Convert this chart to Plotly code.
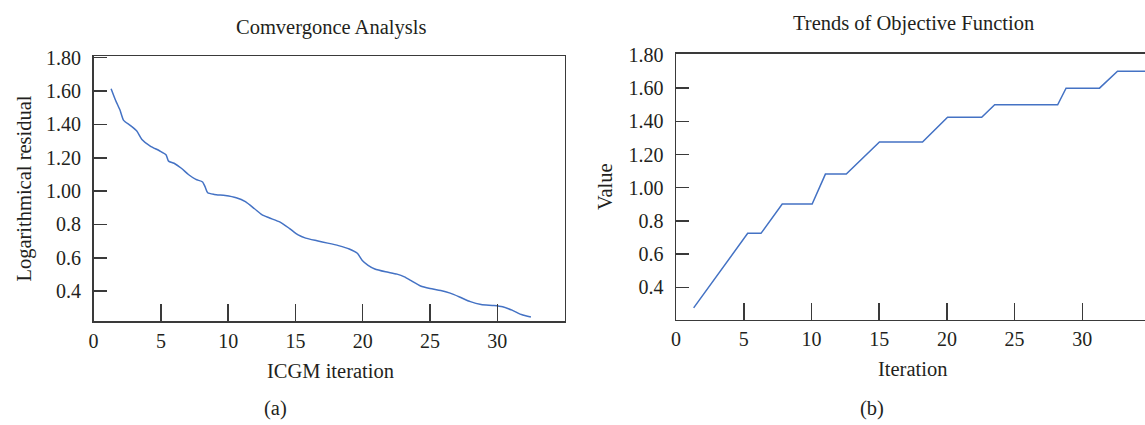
import plotly.graph_objects as go

# ---- data: (a) convergence analysis ----
icgm_iter = [1.30, 1.63, 1.96, 2.23, 2.72, 3.21, 3.59, 4.21, 4.89, 5.38, 5.57, 5.98, 6.52, 7.07,
             7.60, 8.10, 8.29, 8.48, 8.97, 9.78, 10.6, 11.28, 11.96, 12.5, 13.04, 13.86, 14.54,
             15.2, 15.76, 16.6, 17.4, 18.2, 19.0, 19.6, 19.97, 20.4, 20.9, 21.7, 22.55, 23.1,
             23.6, 24.3, 25.0, 25.8, 26.5, 27.2, 28.0, 28.8, 29.76, 30.4, 31.1, 31.8, 32.5]
log_residual = [1.614, 1.545, 1.486, 1.424, 1.394, 1.36, 1.31, 1.27, 1.242, 1.218, 1.18, 1.167,
                1.137, 1.098, 1.07, 1.055, 1.025, 0.99, 0.98, 0.973, 0.96, 0.937, 0.894, 0.859,
                0.84, 0.814, 0.777, 0.737, 0.718, 0.702, 0.688, 0.673, 0.653, 0.627, 0.584, 0.555,
                0.533, 0.516, 0.502, 0.486, 0.463, 0.431, 0.416, 0.404, 0.388, 0.365, 0.337, 0.32,
                0.314, 0.306, 0.286, 0.26, 0.245]

# ---- data: (b) trends of objective function ----
obj_iter = [1.3, 5.29, 6.27, 7.84, 10.05, 11.03, 12.57, 15.02, 18.2, 20.05, 22.57, 23.53,
            28.18, 28.8, 31.27, 32.6, 35.0]
obj_value = [0.276, 0.725, 0.725, 0.902, 0.902, 1.082, 1.082, 1.276, 1.276, 1.425, 1.425, 1.5,
             1.5, 1.6, 1.6, 1.702, 1.702]

x_tickvals = [0, 5, 10, 15, 20, 25, 30]
y_tickvals = [0.4, 0.6, 0.8, 1.0, 1.2, 1.4, 1.6, 1.8]
y_ticktext = ["0.4", "0.6", "0.8", "1.00", "1.20", "1.40", "1.60", "1.80"]

W, H = 1145, 425
FONT = "Liberation Serif"
TXT = "#231F20"
AX = "#3a3a3a"
LINE = "#4472C4"

fig = go.Figure()
fig.add_trace(go.Scatter(x=icgm_iter, y=log_residual, mode="lines",
                         line=dict(color=LINE, width=1.5, shape="spline", smoothing=0.6),
                         xaxis="x", yaxis="y", showlegend=False, hoverinfo="skip"))
fig.add_trace(go.Scatter(x=obj_iter, y=obj_value, mode="lines",
                         line=dict(color=LINE, width=1.5),
                         xaxis="x2", yaxis="y2", showlegend=False, hoverinfo="skip"))

def px_x(p):
    return min(1.0, p / W)

def px_y(p):
    return 1 - p / H

common_axis = dict(showgrid=False, zeroline=False, showline=True, linecolor=AX, linewidth=1.5,
                   ticks="inside", tickcolor=AX, tickwidth=1.5,
                   tickfont=dict(family=FONT, size=20, color=TXT), fixedrange=True)

fig.update_layout(
    width=W, height=H,
    margin=dict(l=0, r=0, t=0, b=0),
    paper_bgcolor="white", plot_bgcolor="white",
    xaxis=dict(domain=[px_x(89), px_x(562)], range=[0, 35], anchor="y",
               tickvals=x_tickvals, ticklen=17, mirror=True, ticklabelstandoff=1,
               **common_axis),
    yaxis=dict(domain=[px_y(318.5), px_y(47.5)], range=[0.221, 1.808], anchor="x",
               tickvals=y_tickvals, ticktext=y_ticktext, ticklen=13, mirror=True,
               ticklabelstandoff=7, **common_axis),
    xaxis2=dict(domain=[px_x(674), 1.0], range=[0, 34.63], anchor="y2",
                tickvals=x_tickvals, ticklen=17, mirror=True, ticklabelstandoff=1,
                **common_axis),
    yaxis2=dict(domain=[px_y(317.3), px_y(45)], range=[0.204, 1.806], anchor="x2",
                tickvals=y_tickvals, ticktext=y_ticktext, ticklen=13, ticklabelstandoff=7,
                **common_axis),
)

def label(text, x, y, size=20.5, angle=0, yanchor="middle"):
    fig.add_annotation(text=text, x=px_x(x), y=px_y(y), xref="paper", yref="paper",
                       xanchor="center", yanchor=yanchor, showarrow=False, textangle=angle,
                       font=dict(family=FONT, size=size, color=TXT))

label("Comvergonce Analysls", 327, 18)
label("Logarithmical residual", 20, 183, angle=-90)
label("ICGM iteration", 327, 370)
label("(a)", 272, 408)
label("Trends of Objective Function", 912, 0, yanchor="top")
label("Value", 602, 181, angle=-90)
label("Iteration", 911, 368)
label("(b)", 871, 408)

fig.write_html("out.html", config={"displayModeBar": False, "staticPlot": True},
               post_script="document.body.style.margin='0px';")
